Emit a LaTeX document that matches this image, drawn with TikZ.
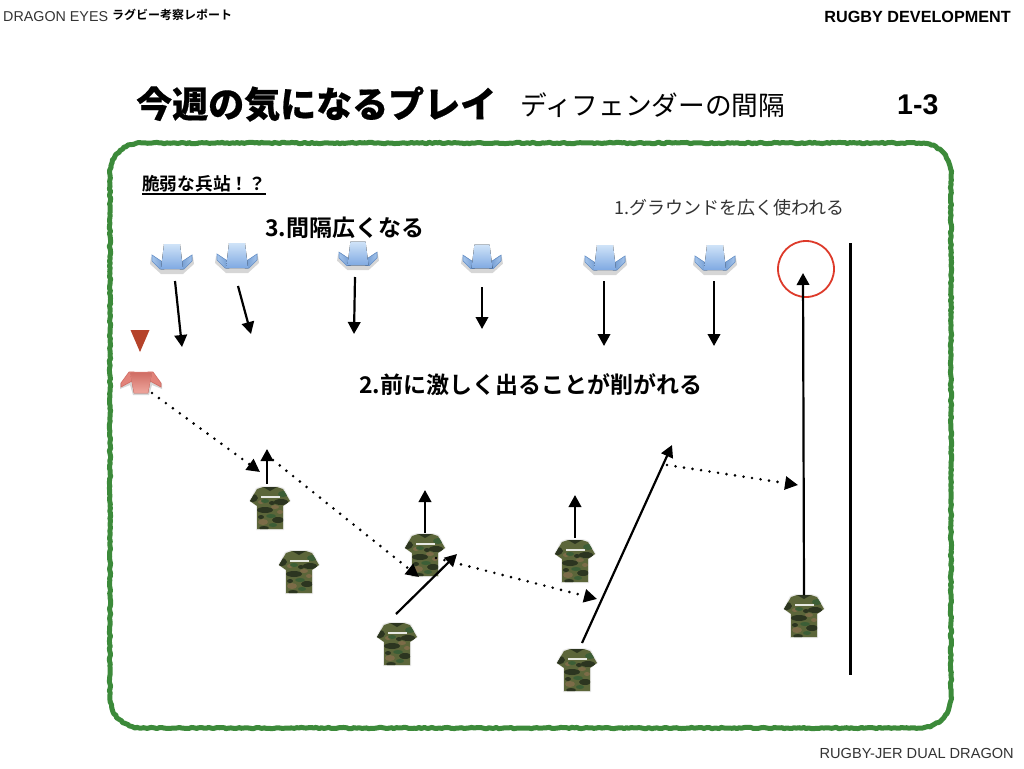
\documentclass[tikz,border=0pt]{standalone}
\usepackage{fontspec}
\usetikzlibrary{arrows.meta,decorations.pathmorphing,shadings}
\setmainfont{Liberation Sans}
\newfontfamily\cjk{Noto Sans CJK JP}[BoldFont={Noto Sans CJK JP Bold}]
\newfontfamily\cjkblack[FakeBold=0.5]{Noto Sans CJK JP Black}
\newcommand{\fs}[1]{\fontsize{#1}{#1}\selectfont}
\definecolor{chalk}{HTML}{3C8A3A}
\definecolor{camoA}{HTML}{5C663A}
\definecolor{camoB}{HTML}{2C3520}
\definecolor{camoC}{HTML}{7C6C48}
\definecolor{camoD}{HTML}{3C5E36}
\definecolor{bluL}{HTML}{CFE3F8}
\definecolor{bluM}{HTML}{7FA9E2}
\definecolor{bluD}{HTML}{6E98CF}
\definecolor{bluW}{HTML}{A5C5EC}
\definecolor{redL}{HTML}{EFA79E}
\definecolor{redM}{HTML}{E2837A}
\definecolor{redD}{HTML}{CF6C63}
\definecolor{markc}{HTML}{B5432A}
\definecolor{ringc}{HTML}{DD3A2A}
\tikzset{
  x=1pt,y=-1pt,
  move/.style={line width=2.2pt,-{Triangle[length=12pt,width=12.5pt]}},
  drift/.style={line width=2.9pt,line cap=round,dash pattern=on 0pt off 8.6pt,-{Triangle[length=13pt,width=13pt]}},
  label/.style={inner sep=0pt,anchor=west,text=black},
  shirt/.pic={
    \fill[black,opacity=.08] (-8,-22) -- (8,-22) -- (14,-20) -- (21,-7) -- (14,-2) -- (14,22) -- (-14,22) -- (-14,-2) -- (-21,-7) -- (-14,-20) -- cycle;
    \begin{scope}
      \path[clip] (-7,-21) -- (7,-21) -- (13,-19) -- (20,-7) -- (13,-2) -- (13,21) -- (-13,21) -- (-13,-2) -- (-20,-7) -- (-13,-19) -- cycle;
      \fill[camoA] (-21,-22) rectangle (21,22);
      \fill[camoB] (-18,-10) ellipse (6 and 4);
      \fill[camoB] (11,-6) ellipse (7 and 3);
      \fill[camoB] (-5,2) ellipse (8 and 3);
      \fill[camoB] (8,12) ellipse (6 and 3);
      \fill[camoB] (-9,9) ellipse (3 and 2);
      \fill[camoB] (2,-5) ellipse (3 and 2);
      \fill[camoC] (5,-1) ellipse (4 and 2);
      \fill[camoC] (-7,14) ellipse (5 and 3);
      \fill[camoC] (10,4) ellipse (3 and 2);
      \fill[camoC] (-9,-6) ellipse (3 and 2);
      \fill[camoD] (-5,-7) ellipse (4 and 2);
      \fill[camoD] (1,8) ellipse (5 and 2);
      \fill[camoD] (13,-14) ellipse (5 and 3);
      \fill[camoD] (3,17) ellipse (4 and 2);
      \fill[camoB] (-6,20) ellipse (5 and 2);
      \fill[camoB] (-7,-21) -- (7,-21) -- (0,-17) -- cycle;
      \fill[white,opacity=.85] (-9,-12.5) rectangle (10,-10);
    \end{scope}
  },
  defender/.pic={
    \fill[black,opacity=.16] (-8,-11) -- (8,-11) -- (11,6) -- (21,-1) -- (22,6) -- (11,16) -- (-11,16) -- (-22,6) -- (-21,-1) -- (-11,6) -- cycle;
    \fill[left color=bluW,right color=bluD,draw=bluD,line width=.6pt] (-20,-3) -- (-8,5) -- (-8,11) -- (-12,11) -- (-20,3) -- cycle;
    \fill[left color=bluD,right color=bluW,draw=bluD,line width=.6pt] (20,-3) -- (8,5) -- (8,11) -- (12,11) -- (20,3) -- cycle;
    \fill[top color=bluL,bottom color=bluM] (-8,-14) -- (8,-14) -- (11,11) -- (-11,11) -- cycle;
  },
  attacker/.pic={
    \fill[black,opacity=.16] (-12,-8) -- (12,-8) -- (21,2) -- (21,7) -- (11,3) -- (8,13) -- (-8,13) -- (-11,3) -- (-21,7) -- (-21,2) -- cycle;
    \fill[fill=redM,draw=redD,line width=.6pt] (-12,-10) -- (-20,1) -- (-20,5) -- (-9,-1) -- (-7,-10) -- cycle;
    \fill[fill=redM,draw=redD,line width=.6pt] (12,-10) -- (20,1) -- (20,5) -- (9,-1) -- (7,-10) -- cycle;
    \fill[top color=redD,bottom color=redL,draw=redM,line width=.5pt] (-11,-10) -- (11,-10) -- (7,11) -- (-7,11) -- cycle;
  },
}
\begin{document}
\begin{tikzpicture}
\useasboundingbox (0,0) rectangle (1024,768);
\fill[white] (0,0) rectangle (1024,768);

% frame
\draw[chalk,line width=5pt,line join=round,decorate,decoration={random steps,segment length=2.5pt,amplitude=.7pt}]
  (142,143) -- (919,143) .. controls (938,143) and (951,156) .. (951,175)
  -- (951,696) .. controls (951,715) and (938,728) .. (919,728)
  -- (142,728) .. controls (123,728) and (110,715) .. (110,696)
  -- (110,175) .. controls (110,156) and (123,143) .. (142,143) -- cycle;

% headers
\node[label] (hdrA) at (3,16.5) {\fs{14.3}\color{black!80}DRAGON EYES};
\node[label] (hdrB) at (112,15) {\fs{12}\cjk\bfseries ラグビー考察レポート};
\node[inner sep=0pt,anchor=east] (hdrC) at (1011,16.5) {\fs{16.2}\bfseries RUGBY DEVELOPMENT};
\node[inner sep=0pt,anchor=east] (ftr) at (1014,753) {\fs{14.6}\color{black!80}RUGBY-JER DUAL DRAGON};
\node[label] (title) at (136,104) {\fs{36}\cjkblack 今週の気になるプレイ};
\node[label] (sub) at (520,105) {\fs{26.7}\cjk ディフェンダーの間隔};
\node[label] (page) at (897,105) {\fs{28.5}\bfseries 1-3};
\node[label] (note) at (142,184) {\fs{17.7}\cjk\bfseries 脆弱な兵站！？};
\draw[black,line width=1.2pt] (142,194) -- (266,194);
\node[label] (one) at (614,208) {\fs{18}\cjk\color{black!80}1.グラウンドを広く使われる};
\node[label] (three) at (265,228) {\fs{23}\cjk\bfseries 3.間隔広くなる};
\node[label] (two) at (359,385) {\fs{23}\cjk\bfseries 2.前に激しく出ることが削がれる};

% touchline and marker circle
\coordinate (lineT) at (850,243);
\coordinate (lineB) at (850,675);
\draw[line width=3pt] (lineT) -- (lineB);
\node[circle,draw=ringc,line width=1.8pt,minimum size=56pt,inner sep=0pt] (ring) at (806,269) {};

% players
\pic at (172,258) {defender};
\pic at (237,257) {defender};
\pic[scale=.95] at (358,255) {defender};
\pic[scale=.95] at (482,258) {defender};
\pic at (605,259) {defender};
\pic at (715,259) {defender};
\pic at (141,382) {attacker};
\fill[markc] (130.5,330) -- (149.5,330) -- (140,352) -- cycle;
\pic at (270,508) {shirt};
\pic at (299,572) {shirt};
\pic at (425,555) {shirt};
\pic at (575,561) {shirt};
\pic at (397,644) {shirt};
\pic at (577,670) {shirt};
\pic at (804,616) {shirt};

% end points
\coordinate (a1) at (175,281); \coordinate (b1) at (182,347);
\coordinate (a2) at (238,286); \coordinate (b2) at (251,334);
\coordinate (a3) at (355,277); \coordinate (b3) at (354,334);
\coordinate (a4) at (482,287); \coordinate (b4) at (482,329);
\coordinate (a5) at (604,281); \coordinate (b5) at (604,346);
\coordinate (a6) at (714,281); \coordinate (b6) at (714,346);
\coordinate (a7) at (267,484); \coordinate (b7) at (267,449);
\coordinate (a8) at (425,533); \coordinate (b8) at (425,490);
\coordinate (a9) at (575,538); \coordinate (b9) at (575,495);
\coordinate (a10) at (396,614); \coordinate (b10) at (457,554);
\coordinate (a11) at (582,643); \coordinate (b11) at (672,445);
\coordinate (a12) at (804,595); \coordinate (b12) at (803,273);
\coordinate (d1) at (152,393); \coordinate (e1) at (260,472);
\coordinate (d2) at (273,460); \coordinate (e2) at (419,577);
\coordinate (d3) at (436,558); \coordinate (e3) at (597,599);
\coordinate (d4) at (667,465); \coordinate (e4) at (798,485);

\foreach \i in {1,...,12} \draw[move] (a\i) -- (b\i);
\foreach \i in {1,...,4} \draw[drift] (d\i) -- (e\i);
\end{tikzpicture}
\end{document}
